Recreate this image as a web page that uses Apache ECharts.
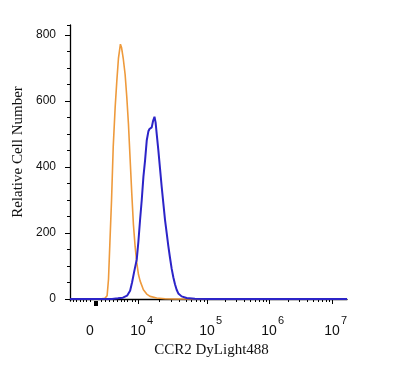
<!DOCTYPE html>
<html><head><meta charset="utf-8">
<script src="https://cdn.jsdelivr.net/npm/echarts@6/dist/echarts.min.js"></script>
<style>html,body{margin:0;padding:0;background:#fff}#c{width:400px;height:365px}</style>
</head><body><div id="c"></div>
<script>
// x values are display channels (0..1000) of the biexponential axis
const orangeX = [0, 108, 126, 134, 139, 144, 150, 156, 163, 169, 175, 182, 186, 192, 199, 205, 211, 217, 223, 229, 235, 241, 247, 253, 265, 277, 289, 313, 343, 379, 1000];
const orangeY = [0, 0, 2, 10, 60, 170, 300, 460, 580, 660, 730, 772, 762, 730, 680, 612, 530, 425, 320, 225, 160, 110, 75, 55, 28, 15, 8, 3, 1, 0, 0];
const blueX = [0, 152, 173, 191, 206, 217, 224, 231, 241, 247, 253, 259, 265, 271, 277, 283, 287, 291, 295, 300, 305, 309, 313, 319, 325, 331, 337, 343, 349, 355, 361, 367, 373, 379, 385, 391, 403, 421, 451, 505, 1000];
const blueY = [0, 0, 2, 4, 10, 25, 50, 80, 120, 175, 240, 300, 370, 420, 480, 508, 515, 512, 520, 540, 552, 535, 500, 450, 395, 340, 290, 240, 200, 160, 125, 92, 66, 45, 28, 17, 8, 3, 1, 0, 0];

const zeroPos = 72;
const decadePos = [245.5, 494.6, 718.4, 945.8];
const decadeExp = ['4', '5', '6', '7'];
const lowMinorTicks = [12, 24, 36, 48, 60, 72, 112, 127, 142, 156, 172, 184, 196, 208, 224, 236];
const zeroMark = [94];
const yMajor = [0, 200, 400, 600, 800];
const yMinor = [50, 100, 150, 250, 300, 350, 450, 500, 550, 650, 700, 750, 830];

const minorTicks = lowMinorTicks.slice();
for (let n = 0; n < decadePos.length - 1; n++) {
  for (let k = 2; k <= 9; k++) {
    minorTicks.push(decadePos[n] + Math.log10(k) * (decadePos[n + 1] - decadePos[n]));
  }
}
const labelPos = [zeroPos].concat(decadePos);
function decadeIndex(v) {
  return decadePos.findIndex(function (p) { return Math.abs(p - v) < 0.01; });
}

const chart = echarts.init(document.getElementById('c'), null, {renderer: 'canvas'});
const baseX = {type: 'value', min: 0, max: 1000, gridIndex: 0, position: 'bottom', splitLine: {show: false}};
const baseY = {type: 'value', min: -6, max: 830, gridIndex: 0, position: 'left', splitLine: {show: false}};
chart.setOption({
  animation: false,
  grid: {left: 70, right: 53, top: 25, bottom: 64, containLabel: false},
  xAxis: [
    Object.assign({}, baseX, {
      axisLine: {show: true, lineStyle: {color: '#000', width: 1.3}},
      axisTick: {show: true, inside: false, length: 5, customValues: decadePos, lineStyle: {color: '#000'}},
      axisLabel: {
        show: true, customValues: labelPos, margin: 23,
        fontFamily: 'Liberation Sans', fontSize: 14, color: '#111',
        formatter: function (v) { return decadeIndex(v) < 0 ? '0' : '10'; }
      },
      name: 'CCR2 DyLight488', nameLocation: 'middle', nameGap: 41,
      nameTextStyle: {fontFamily: 'Liberation Serif', fontSize: 15, color: '#111', padding: [0, 0, 0, 6]}
    }),
    Object.assign({}, baseX, {
      axisLine: {show: false},
      axisTick: {show: true, inside: false, length: 3, customValues: minorTicks, lineStyle: {color: '#000'}},
      axisLabel: {show: false}
    }),
    Object.assign({}, baseX, {
      axisLine: {show: false},
      axisTick: {show: true, inside: false, length: 5, customValues: zeroMark, lineStyle: {color: '#000', width: 4}},
      axisLabel: {show: false}
    }),
    Object.assign({}, baseX, {
      axisLine: {show: false},
      axisTick: {show: false},
      axisLabel: {
        show: true, customValues: decadePos, margin: 14, align: 'left', padding: [0, 0, 0, 9],
        fontFamily: 'Liberation Sans', fontSize: 11, color: '#111',
        formatter: function (v) { const i = decadeIndex(v); return i < 0 ? '' : decadeExp[i]; }
      }
    })
  ],
  yAxis: [
    Object.assign({}, baseY, {
      axisLine: {show: true, lineStyle: {color: '#000', width: 1.3}},
      axisTick: {show: true, inside: false, length: 5, customValues: yMajor, lineStyle: {color: '#000'}},
      axisLabel: {show: true, customValues: yMajor, margin: 14, fontFamily: 'Liberation Sans', fontSize: 12, color: '#111'}
    }),
    Object.assign({}, baseY, {
      axisLine: {show: false},
      axisTick: {show: true, inside: false, length: 3, customValues: yMinor, lineStyle: {color: '#000'}},
      axisLabel: {show: false}
    })
  ],
  graphic: [{
    type: 'text', x: 18, y: 152, rotation: Math.PI / 2,
    style: {text: 'Relative Cell Number', fontFamily: 'Liberation Serif', fontSize: 15, fill: '#111', align: 'center', verticalAlign: 'middle'}
  }],
  series: [
    {type: 'line', xAxisIndex: 0, yAxisIndex: 0, symbol: 'none', smooth: false,
     lineStyle: {color: '#EE9A3C', width: 1.6},
     data: orangeX.map(function (x, i) { return [x, orangeY[i]]; })},
    {type: 'line', xAxisIndex: 0, yAxisIndex: 0, symbol: 'none', smooth: false,
     lineStyle: {color: '#2C24C8', width: 2},
     data: blueX.map(function (x, i) { return [x, blueY[i]]; })}
  ]
});
</script></body></html>
